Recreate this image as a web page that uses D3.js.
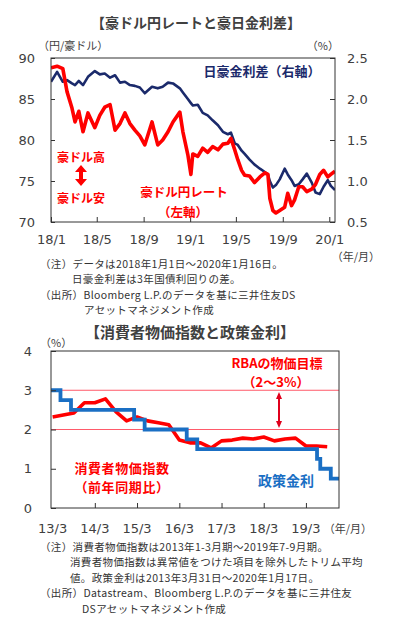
<!DOCTYPE html>
<html>
<head>
<meta charset="utf-8">
<script src="https://cdn.jsdelivr.net/npm/d3@7"></script>
<style>
  body { margin: 0; background: #fff; }
  text { font-family: "DejaVu Sans", sans-serif; }
  .jp { font-family: "Noto Sans CJK JP", sans-serif; }
</style>
</head>
<body>
<div id="chart"></div>
<script>
// ---- data: AUD/JPY and JP-AU 3y yield spread ----
const fxDates = ["2018-01-01","2018-01-17","2018-02-01","2018-02-12","2018-02-25","2018-03-05","2018-03-15","2018-03-26","2018-04-08","2018-04-26",
  "2018-05-09","2018-05-22","2018-06-05","2018-06-18","2018-07-01","2018-07-14","2018-07-27","2018-08-09","2018-08-22","2018-09-04",
  "2018-09-23","2018-10-08","2018-10-21","2018-11-04","2018-11-17","2018-12-05","2018-12-13","2018-12-26","2019-01-03","2019-01-08",
  "2019-01-21","2019-02-03","2019-02-16","2019-03-01","2019-03-15","2019-03-28","2019-04-10","2019-04-18","2019-04-28","2019-05-06",
  "2019-05-16","2019-05-24","2019-06-06","2019-06-19","2019-07-03","2019-07-16","2019-07-24","2019-07-29","2019-08-06","2019-08-14",
  "2019-08-24","2019-09-06","2019-09-14","2019-09-24","2019-10-02","2019-10-13","2019-10-23","2019-11-03","2019-11-16","2019-11-26",
  "2019-12-07","2019-12-17","2019-12-28","2020-01-05","2020-01-16"];
const audjpy = [88.8,89.0,88.7,85.9,83.9,82.2,83.5,81.0,83.3,81.5,
  83.0,84.0,84.3,81.2,82.0,83.3,82.0,81.2,80.5,79.4,
  82.2,79.4,80.0,81.0,82.2,83.4,81.0,78.2,75.8,78.3,
  78.0,79.0,78.5,79.2,78.8,79.5,79.6,80.2,78.8,77.6,
  76.3,75.7,75.6,74.8,75.5,76.0,75.8,72.9,71.4,71.1,
  71.4,71.8,73.5,72.0,72.7,74.3,74.3,73.7,74.0,74.6,
  75.8,76.3,75.5,75.8,76.2];
const spread = [2.21,2.33,2.21,2.23,2.19,2.17,2.22,2.17,2.27,2.34,
  2.30,2.31,2.26,2.29,2.20,2.21,2.17,2.16,2.14,2.07,
  2.15,2.13,2.15,2.20,2.19,2.13,2.08,2.00,1.95,1.92,
  1.93,1.83,1.80,1.74,1.68,1.60,1.57,1.59,1.46,1.44,
  1.37,1.33,1.26,1.20,1.15,1.11,1.08,1.00,0.92,0.95,
  1.02,1.15,1.08,1.01,0.94,0.96,1.02,1.09,0.98,0.86,
  0.84,0.93,1.01,0.94,0.89];
const fxTicks = ["2018-01-01","2018-05-01","2018-09-01","2019-01-01","2019-05-01","2019-09-01","2020-01-01"];
const fxTickLabels = ["18/1","18/5","18/9","19/1","19/5","19/9","20/1"];
const leftTicks = [70, 75, 80, 85, 90];
const rightTicks = [0.5, 1.0, 1.5, 2.0, 2.5];

// ---- data: trimmed mean CPI (quarterly) and RBA cash rate ----
const cpiQuarters = ["2013-03-01","2013-06-01","2013-09-01","2013-12-01","2014-03-01","2014-06-01","2014-09-01","2014-12-01",
  "2015-03-01","2015-06-01","2015-09-01","2015-12-01","2016-03-01","2016-06-01","2016-09-01","2016-12-01",
  "2017-03-01","2017-06-01","2017-09-01","2017-12-01","2018-03-01","2018-06-01","2018-09-01","2018-12-01",
  "2019-03-01","2019-06-01","2019-09-01"];
const cpi = [2.32,2.37,2.42,2.68,2.68,2.78,2.45,2.22,
  2.32,2.22,2.17,2.12,1.73,1.66,1.66,1.53,
  1.71,1.73,1.78,1.76,1.81,1.71,1.76,1.78,
  1.58,1.58,1.56];
const rateDates = ["2013-02-15","2013-05-08","2013-08-07","2015-02-04","2015-05-06","2016-05-04","2016-08-03","2019-06-05","2019-07-03","2019-10-02","2020-01-17"];
const cashRate = [3.00,2.75,2.50,2.25,2.00,1.75,1.50,1.25,1.00,0.75,0.75];
const cpiTicks = ["2014-03-01","2015-03-01","2016-03-01","2017-03-01","2018-03-01","2019-03-01"];
const cpiTickLabels = ["13/3","14/3","15/3","16/3","17/3","18/3","19/3"];
const pctTicks = [0, 1, 2, 3, 4];
const targetBand = [2, 3];

const parse = d3.timeParse("%Y-%m-%d");
const W = 393, H = 635;
const grey = "#404040";

const svg = d3.select("#chart").append("svg")
  .attr("width", W).attr("height", H)
  .attr("viewBox", [0, 0, W, H]);

svg.append("rect").attr("width", W).attr("height", H).attr("fill", "#fff");

// helper for text
function label(x, y, str, opts = {}) {
  return svg.append("text")
    .attr("class", "jp")
    .attr("x", x).attr("y", y)
    .attr("text-anchor", opts.anchor || "start")
    .attr("dominant-baseline", "central")
    .attr("font-size", opts.size || 11)
    .attr("font-weight", opts.bold ? "bold" : "normal")
    .attr("letter-spacing", opts.ls || 0)
    .attr("fill", opts.color || grey)
    .text(str);
}

// double headed vertical arrow
function arrow(x, y1, y2, shaft, head, headH, color) {
  const p = d3.path();
  p.moveTo(x, y1);
  p.lineTo(x + head / 2, y1 + headH);
  p.lineTo(x + shaft / 2, y1 + headH);
  p.lineTo(x + shaft / 2, y2 - headH);
  p.lineTo(x + head / 2, y2 - headH);
  p.lineTo(x, y2);
  p.lineTo(x - head / 2, y2 - headH);
  p.lineTo(x - shaft / 2, y2 - headH);
  p.lineTo(x - shaft / 2, y1 + headH);
  p.lineTo(x - head / 2, y1 + headH);
  p.closePath();
  svg.append("path").attr("d", p.toString()).attr("fill", color);
}

const note = {size: 10.5, color: "#333", ls: 0.35};

/*
  Chart 1 : AUD/JPY vs spread
*/
const p1 = {left: 51, right: 335, top: 58, bottom: 222};

const x1 = d3.scaleTime()
  .domain([parse("2018-01-01"), parse("2020-01-16")])
  .range([p1.left, p1.right]);
const yL = d3.scaleLinear().domain([70, 90]).range([p1.bottom, p1.top]);
const yR = d3.scaleLinear().domain([0.5, 2.5]).range([p1.bottom, p1.top]);

label(196, 22, "【豪ドル円レートと豪日金利差】", {anchor: "middle", size: 14, bold: true});
label(38, 45, "（円/豪ドル）", {size: 11});
label(339, 45, "（%）", {anchor: "end", size: 11});

svg.append("clipPath").attr("id", "clip1")
  .append("rect").attr("x", p1.left).attr("y", p1.top)
  .attr("width", p1.right - p1.left).attr("height", p1.bottom - p1.top);

const fxData = fxDates.map((d, i) => ({date: parse(d), fx: audjpy[i], sp: spread[i]}));

svg.append("path")
  .datum(fxData)
  .attr("clip-path", "url(#clip1)")
  .attr("fill", "none")
  .attr("stroke", "#1b2a6b")
  .attr("stroke-width", 2.6)
  .attr("stroke-linejoin", "round")
  .attr("d", d3.line().x(d => x1(d.date)).y(d => yR(d.sp)));

svg.append("path")
  .datum(fxData)
  .attr("clip-path", "url(#clip1)")
  .attr("fill", "none")
  .attr("stroke", "#ff0000")
  .attr("stroke-width", 3.6)
  .attr("stroke-linejoin", "round")
  .attr("d", d3.line().x(d => x1(d.date)).y(d => yL(d.fx)));

// axes
const axL = svg.append("g")
  .attr("transform", `translate(${p1.left},0)`)
  .call(d3.axisLeft(yL).tickValues(leftTicks).tickSize(-4).tickPadding(16));
const axR = svg.append("g")
  .attr("transform", `translate(${p1.right},0)`)
  .call(d3.axisRight(yR).tickValues(rightTicks).tickSize(-5).tickPadding(12).tickFormat(d3.format(".1f")));
const axB = svg.append("g")
  .attr("transform", `translate(0,${p1.bottom})`)
  .call(d3.axisBottom(x1).tickValues(fxTicks.map(parse)).tickSize(-5).tickPadding(13)
    .tickFormat((d, i) => fxTickLabels[i]));
[axL, axR, axB].forEach(a => {
  a.select(".domain").remove();
  a.selectAll("line").attr("stroke", "#333");
  a.selectAll("text").attr("font-size", 13).attr("fill", grey).attr("font-family", "DejaVu Sans");
});
svg.append("rect")
  .attr("x", p1.left).attr("y", p1.top)
  .attr("width", p1.right - p1.left).attr("height", p1.bottom - p1.top)
  .attr("fill", "none").attr("stroke", "#333").attr("stroke-width", 1);

label(380, 256, "（年/月）", {anchor: "end", size: 11});

label(262, 70, "日豪金利差（右軸）", {anchor: "middle", size: 13, bold: true, color: "#1b2a6b"});
label(81, 156, "豪ドル高", {anchor: "middle", size: 12, bold: true, color: "#ff0000"});
arrow(81, 165, 186, 4, 12, 7, "#ff0000");
label(81, 197, "豪ドル安", {anchor: "middle", size: 12, bold: true, color: "#ff0000"});
label(184, 191, "豪ドル円レート", {anchor: "middle", size: 12.5, bold: true, color: "#ff0000"});
label(183, 211, "（左軸）", {anchor: "middle", size: 12.5, bold: true, color: "#ff0000"});

label(40, 263, "（注）データは2018年1月1日～2020年1月16日。", note);
label(72, 278.5, "日豪金利差は3年国債利回りの差。", note);
label(40, 294, "（出所）Bloomberg L.P.のデータを基に三井住友DS", note);
label(84, 309.5, "アセットマネジメント作成", note);

/*
  Chart 2 : CPI vs cash rate
*/
const p2 = {left: 51, right: 339, top: 351, bottom: 508};

const x2 = d3.scaleTime()
  .domain([parse("2013-02-15"), parse("2019-12-12")])
  .range([p2.left, p2.right]);
const y2 = d3.scaleLinear().domain([0, 4]).range([p2.bottom, p2.top]);

label(190, 331, "【消費者物価指数と政策金利】", {anchor: "middle", size: 15, bold: true});
label(40, 342, "（%）", {size: 11});

svg.append("clipPath").attr("id", "clip2")
  .append("rect").attr("x", p2.left).attr("y", p2.top)
  .attr("width", p2.right - p2.left).attr("height", p2.bottom - p2.top);

// RBA target band lines
svg.selectAll(".band")
  .data(targetBand)
  .enter().append("line")
  .attr("class", "band")
  .attr("x1", p2.left).attr("x2", p2.right)
  .attr("y1", d => y2(d)).attr("y2", d => y2(d))
  .attr("stroke", "#ff5a6a").attr("stroke-width", 1);

const rateData = rateDates.map((d, i) => ({date: parse(d), v: cashRate[i]}));
const cpiData = cpiQuarters.map((d, i) => ({date: parse(d), v: cpi[i]}));

svg.append("path")
  .datum(cpiData)
  .attr("clip-path", "url(#clip2)")
  .attr("fill", "none")
  .attr("stroke", "#ff0000")
  .attr("stroke-width", 3.6)
  .attr("stroke-linejoin", "round")
  .attr("d", d3.line().x(d => x2(d.date)).y(d => y2(d.v)));

svg.append("path")
  .datum(rateData)
  .attr("clip-path", "url(#clip2)")
  .attr("fill", "none")
  .attr("stroke", "#1a6fc4")
  .attr("stroke-width", 3.8)
  .attr("d", d3.line().curve(d3.curveStepAfter).x(d => x2(d.date)).y(d => y2(d.v)));

const ax2L = svg.append("g")
  .attr("transform", `translate(${p2.left},0)`)
  .call(d3.axisLeft(y2).tickValues(pctTicks).tickSize(-5).tickPadding(19).tickFormat(d3.format("d")));
const ax2B = svg.append("g")
  .attr("transform", `translate(0,${p2.bottom})`)
  .call(d3.axisBottom(x2).tickValues(cpiTicks.map(parse)).tickSize(-5).tickPadding(14).tickFormat(() => ""));
[ax2L, ax2B].forEach(a => {
  a.select(".domain").remove();
  a.selectAll("line").attr("stroke", "#333");
  a.selectAll("text").attr("font-size", 13).attr("fill", grey).attr("font-family", "DejaVu Sans");
});
// x labels: first one sits at 13/3, the rest at the ticks
const labDates = ["2013-03-01"].concat(cpiTicks);
svg.selectAll(".xl2")
  .data(labDates)
  .enter().append("text")
  .attr("class", "xl2")
  .attr("x", d => x2(parse(d)))
  .attr("y", 528)
  .attr("text-anchor", "middle")
  .attr("dominant-baseline", "central")
  .attr("font-size", 13)
  .attr("fill", grey)
  .text((d, i) => cpiTickLabels[i]);

svg.append("rect")
  .attr("x", p2.left).attr("y", p2.top)
  .attr("width", p2.right - p2.left).attr("height", p2.bottom - p2.top)
  .attr("fill", "none").attr("stroke", "#333").attr("stroke-width", 1);

label(372, 528, "（年/月）", {anchor: "end", size: 11});

label(277, 362, "RBAの物価目標", {anchor: "middle", size: 13, bold: true, color: "#ff0000"});
label(276, 381, "（2～3%）", {anchor: "middle", size: 13, bold: true, color: "#ff0000"});
arrow(279, 392, 428, 2, 6, 7, "#e0001c");
label(122, 467, "消費者物価指数", {anchor: "middle", size: 13, bold: true, color: "#ff0000", ls: 0.6});
label(122, 486, "（前年同期比）", {anchor: "middle", size: 13, bold: true, color: "#ff0000", ls: 0.6});
label(286, 480, "政策金利", {anchor: "middle", size: 14, bold: true, color: "#1a6fc4"});

label(40, 546, "（注）消費者物価指数は2013年1-3月期～2019年7-9月期。", note);
label(70, 561.5, "消費者物価指数は異常値をつけた項目を除外したトリム平均", note);
label(70, 577, "値。政策金利は2013年3月31日～2020年1月17日。", note);
label(40, 592.5, "（出所）Datastream、Bloomberg L.P.のデータを基に三井住友", note);
label(82, 608, "DSアセットマネジメント作成", note);
</script>
</body>
</html>
